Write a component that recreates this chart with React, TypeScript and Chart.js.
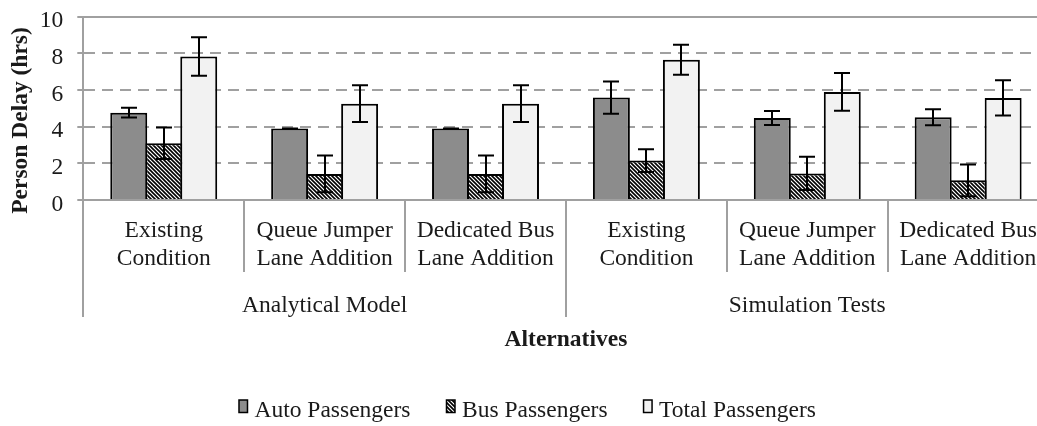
import React, { useEffect, useRef } from "react";
import { Chart, registerables } from "chart.js";

Chart.register(...registerables);

// ---------- data ----------
const categories: string[][] = [
  ["Existing", "Condition"],
  ["Queue Jumper", "Lane Addition"],
  ["Dedicated Bus", "Lane Addition"],
  ["Existing", "Condition"],
  ["Queue Jumper", "Lane Addition"],
  ["Dedicated Bus", "Lane Addition"],
];
const groupLabels = ["Analytical Model", "Simulation Tests"];
const groupSizes = [3, 3];
const seriesNames = ["Auto Passengers", "Bus Passengers", "Total Passengers"];

const autoValues = [4.76, 3.9, 3.9, 5.58, 4.47, 4.51];
const autoErrors = [0.27, 0, 0, 0.88, 0.38, 0.44];
const busValues = [3.09, 1.42, 1.42, 2.15, 1.45, 1.07];
const busErrors = [0.86, 1.0, 1.0, 0.62, 0.91, 0.87];
const totalValues = [7.82, 5.25, 5.25, 7.64, 5.89, 5.56];
const totalErrors = [1.05, 1.0, 1.0, 0.82, 1.03, 0.96];

const yMin = 0;
const yMax = 10;
const yStep = 2;

const xTitle = "Alternatives";
const yTitle = "Person Delay (hrs)";

// ---------- style ----------
const FONT = '"Liberation Serif", "Times New Roman", serif';
const FS = 23.5;
const TEXT = "#1a1a1a";
const GRID = "#a0a0a0";

function makeHatch(): CanvasPattern | string {
  const n = 4;
  const c = document.createElement("canvas");
  c.width = n;
  c.height = n;
  const g = c.getContext("2d");
  if (!g) return "#555";
  g.fillStyle = "#ffffff";
  g.fillRect(0, 0, n, n);
  g.strokeStyle = "#000000";
  g.lineWidth = 1.6;
  g.beginPath();
  g.moveTo(-1, -1);
  g.lineTo(n + 1, n + 1);
  g.moveTo(-1, n - 1);
  g.lineTo(1, n + 1);
  g.moveTo(n - 1, -1);
  g.lineTo(n + 1, 1);
  g.stroke();
  const p = g.createPattern(c, "repeat");
  return p || "#555";
}

export default function App() {
  const ref = useRef<HTMLCanvasElement>(null);

  useEffect(() => {
    const canvas = ref.current;
    if (!canvas) return;
    const hatch = makeHatch();
    const fills: (string | CanvasPattern)[] = ["#8c8c8c", hatch, "#f2f2f2"];
    const errs = [autoErrors, busErrors, totalErrors];

    const errorBars = {
      id: "errorBars",
      afterDatasetsDraw(chart: any) {
        const { ctx } = chart;
        const y = chart.scales.y;
        ctx.save();
        ctx.strokeStyle = "#000";
        ctx.lineWidth = 2;
        chart.data.datasets.forEach((ds: any, di: number) => {
          const meta = chart.getDatasetMeta(di);
          meta.data.forEach((bar: any, i: number) => {
            const v = ds.data[i] as number;
            const e = errs[di][i];
            const top = y.getPixelForValue(v + e);
            const bot = y.getPixelForValue(v - e);
            const x = Math.round(bar.x);
            const cap = 8;
            ctx.beginPath();
            ctx.moveTo(x, top);
            ctx.lineTo(x, bot);
            ctx.moveTo(x - cap, top);
            ctx.lineTo(x + cap, top);
            ctx.moveTo(x - cap, bot);
            ctx.lineTo(x + cap, bot);
            ctx.stroke();
          });
        });
        ctx.restore();
      },
    };

    const extras = {
      id: "extras",
      afterDraw(chart: any) {
        const { ctx, chartArea } = chart;
        const xs = chart.scales.x;
        const step = xs.getPixelForValue(1) - xs.getPixelForValue(0);
        const start = xs.getPixelForValue(0) - step / 2;
        const bottom = chartArea.bottom;

        // separators
        const longIdx = new Set<number>([0]);
        let acc = 0;
        groupSizes.forEach((s) => {
          acc += s;
          longIdx.add(acc);
        });
        ctx.save();
        ctx.strokeStyle = GRID;
        ctx.lineWidth = 2;
        for (let k = 0; k <= categories.length; k++) {
          const bx = Math.round(start + k * step);
          ctx.beginPath();
          ctx.moveTo(bx, bottom);
          ctx.lineTo(bx, bottom + (longIdx.has(k) ? 117 : 72));
          ctx.stroke();
        }

        // group labels
        ctx.fillStyle = TEXT;
        ctx.font = `${FS}px ${FONT}`;
        ctx.textAlign = "center";
        ctx.textBaseline = "alphabetic";
        let g0 = 0;
        groupLabels.forEach((lab, gi) => {
          const g1 = g0 + groupSizes[gi];
          const cx = start + ((g0 + g1) / 2) * step;
          ctx.fillText(lab, cx, bottom + 111.5);
          g0 = g1;
        });

        // x title
        ctx.font = `bold ${FS}px ${FONT}`;
        ctx.fillText(xTitle, (chartArea.left + chartArea.right) / 2, bottom + 146);

        // y title
        ctx.save();
        ctx.translate(27, 120.5);
        ctx.rotate(-Math.PI / 2);
        ctx.textAlign = "center";
        ctx.fillText(yTitle, 0, 0);
        ctx.restore();

        // legend
        ctx.font = `${FS}px ${FONT}`;
        const boxW = 8.5;
        const boxH = 12.5;
        const gap = 7;
        const spacing = 36;
        const widths = seriesNames.map((n) => ctx.measureText(n).width);
        const totalW =
          widths.reduce((s, w) => s + boxW + gap + w, 0) + spacing * (seriesNames.length - 1);
        let lx = 527.5 - totalW / 2;
        const ly = 416.5;
        seriesNames.forEach((n, i) => {
          ctx.fillStyle = fills[i] as any;
          ctx.fillRect(lx, ly - 16.5, boxW, boxH);
          ctx.strokeStyle = "#000";
          ctx.lineWidth = 1.5;
          ctx.strokeRect(lx, ly - 16.5, boxW, boxH);
          ctx.fillStyle = TEXT;
          ctx.textAlign = "left";
          ctx.fillText(n, lx + boxW + gap, ly);
          lx += boxW + gap + widths[i] + spacing;
        });
        ctx.restore();
      },
    };

    const mkDs = (label: string, data: number[], fill: any) => ({
      label,
      data,
      backgroundColor: fill,
      borderColor: "#000",
      borderWidth: 2,
      borderSkipped: "start" as const,
      inflateAmount: 0,
      categoryPercentage: 0.6526,
      barPercentage: 1.056,
    });

    const chart = new Chart(canvas, {
      type: "bar",
      data: {
        labels: categories,
        datasets: [
          mkDs(seriesNames[0], autoValues, fills[0]),
          mkDs(seriesNames[1], busValues, fills[1]),
          mkDs(seriesNames[2], totalValues, fills[2]),
        ],
      },
      options: {
        responsive: false,
        animation: false,
        layout: { padding: { left: 0, right: 11.4, top: 16.5, bottom: 0 } },
        plugins: {
          legend: { display: false },
          tooltip: { enabled: false },
          title: { display: false },
        },
        scales: {
          x: {
            grid: { display: false, drawTicks: false },
            border: { display: false },
            ticks: {
              font: { family: FONT, size: FS, lineHeight: 1.2 },
              color: TEXT,
              padding: 17,
              maxRotation: 0,
              minRotation: 0,
              autoSkip: false,
            },
            afterFit: (s: any) => {
              s.height = 226;
              s.paddingLeft = 0;
              s.paddingRight = 0;
            },
          },
          y: {
            min: yMin,
            max: yMax,
            ticks: {
              stepSize: yStep,
              font: { family: FONT, size: FS },
              color: TEXT,
              padding: 14,
              labelOffset: 4.5,
            },
            grid: {
              color: GRID,
              lineWidth: 2,
              tickLength: 6,
              tickColor: GRID,
              tickWidth: 2,
            },
            border: {
              display: true,
              color: GRID,
              width: 2,
              dash: (c: any) =>
                c && c.tick && c.tick.value > yMin && c.tick.value < yMax ? [11, 7] : [],
            },
            afterFit: (s: any) => {
              s.width = 83.3;
              s.paddingTop = 0;
              s.paddingBottom = 0;
            },
          },
        },
      },
      plugins: [errorBars, extras],
    } as any);

    return () => chart.destroy();
  }, []);

  return (
    <div
      style={{
        position: "fixed",
        left: 0,
        top: 0,
        width: 1037,
        height: 426,
        overflow: "hidden",
        background: "#fff",
      }}
    >
      <canvas ref={ref} width={1060} height={426} style={{ display: "block" }} />
    </div>
  );
}
